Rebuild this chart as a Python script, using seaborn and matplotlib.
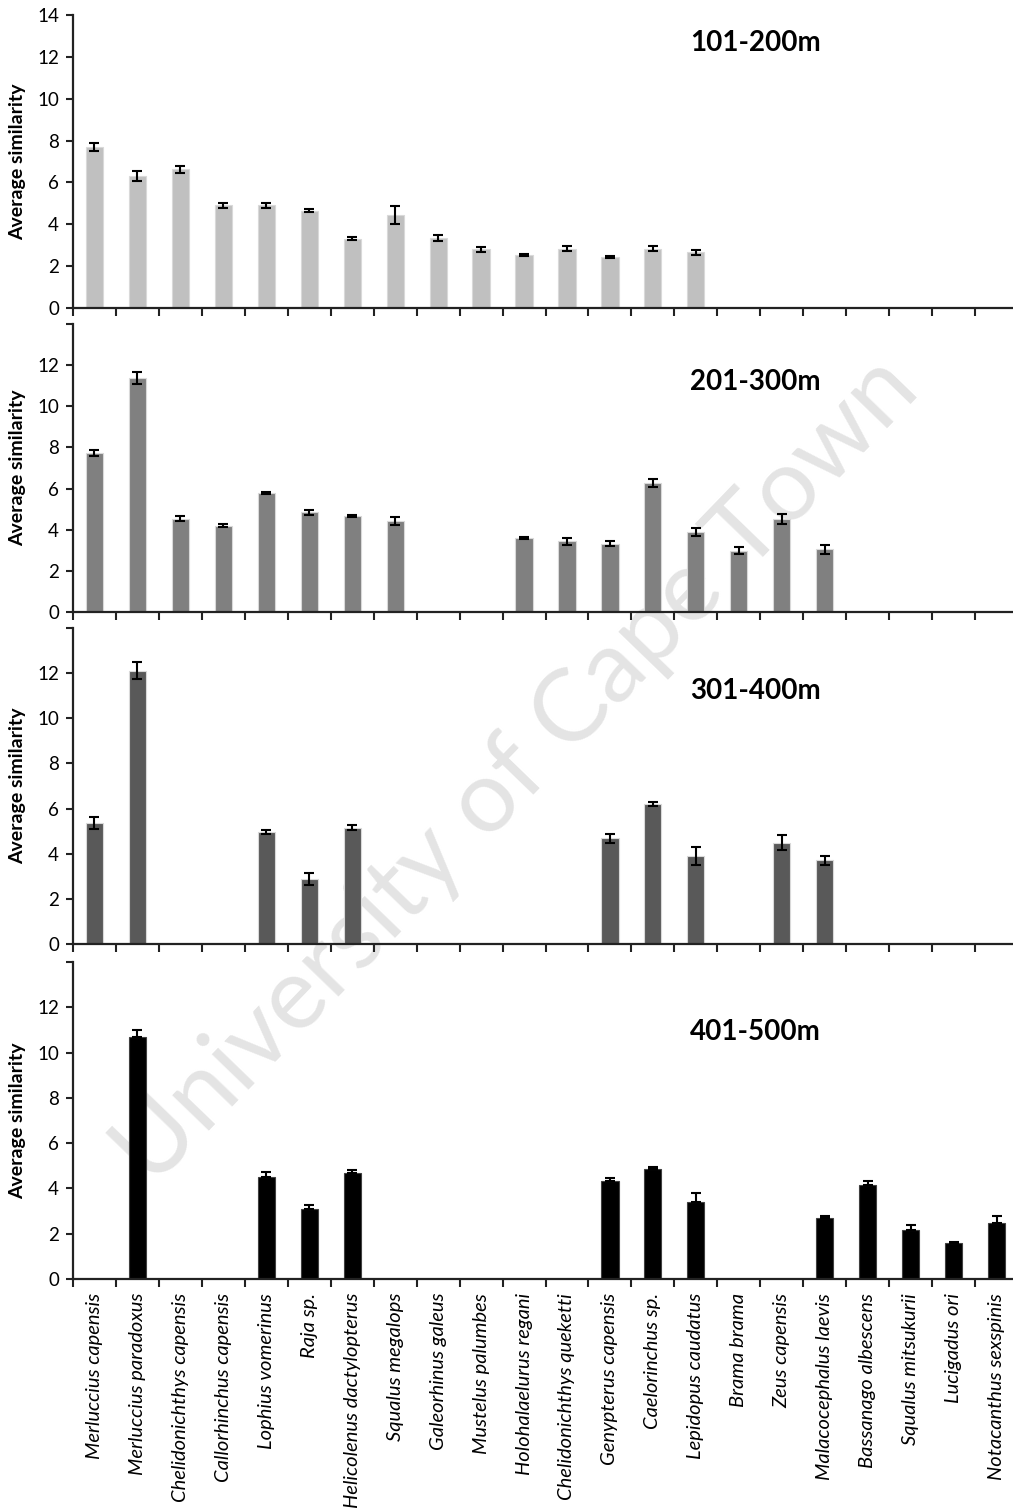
import matplotlib
matplotlib.use("Agg")
import matplotlib.pyplot as plt
import seaborn as sns
import numpy as np
import pandas as pd

species = [
    "Merluccius capensis", "Merluccius paradoxus", "Chelidonichthys capensis",
    "Callorhinchus capensis", "Lophius vomerinus", "Raja sp.",
    "Helicolenus dactylopterus", "Squalus megalops", "Galeorhinus galeus",
    "Mustelus palumbes", "Holohalaelurus regani", "Chelidonichthys queketti",
    "Genypterus capensis", "Caelorinchus sp.", "Lepidopus caudatus",
    "Brama brama", "Zeus capensis", "Malacocephalus laevis",
    "Bassanago albescens", "Squalus mitsukurii", "Lucigadus ori",
    "Notacanthus sexspinis",
]

depths = ["101-200m", "201-300m", "301-400m", "401-500m"]

# 101-200m
sp_101 = species[:15]
val_101 = [7.68, 6.3, 6.62, 4.92, 4.92, 4.65, 3.3, 4.44, 3.36, 2.8, 2.53, 2.82, 2.45, 2.82, 2.66]
err_101 = [0.2, 0.25, 0.15, 0.12, 0.12, 0.08, 0.07, 0.42, 0.15, 0.13, 0.06, 0.12, 0.05, 0.12, 0.12]

# 201-300m
sp_201 = species[:8] + species[10:18]
val_201 = [7.71, 11.39, 4.54, 4.19, 5.79, 4.84, 4.67, 4.42,
           3.61, 3.43, 3.32, 6.28, 3.9, 2.98, 4.53, 3.04]
err_201 = [0.15, 0.3, 0.12, 0.08, 0.05, 0.12, 0.05, 0.2,
           0.04, 0.15, 0.12, 0.18, 0.2, 0.18, 0.25, 0.2]

# 301-400m
sp_301 = [species[i] for i in [0, 1, 4, 5, 6, 12, 13, 14, 16, 17]]
val_301 = [5.35, 12.1, 4.97, 2.87, 5.16, 4.68, 6.2, 3.9, 4.49, 3.71]
err_301 = [0.27, 0.38, 0.1, 0.27, 0.1, 0.2, 0.1, 0.38, 0.34, 0.2]

# 401-500m (upper error bars only)
sp_401 = [species[i] for i in [1, 4, 5, 6, 12, 13, 14, 17, 18, 19, 20, 21]]
val_401 = [10.7, 4.5, 3.07, 4.7, 4.32, 4.84, 3.39, 2.68, 4.13, 2.15, 1.58, 2.49]
err_401 = [0.31, 0.22, 0.18, 0.13, 0.16, 0.09, 0.43, 0.12, 0.18, 0.24, 0.04, 0.31]

bar_colors = ["#c0c0c0", "#808080", "#595959", "#000000"]

panels = [
    (sp_101, val_101, err_101),
    (sp_201, val_201, err_201),
    (sp_301, val_301, err_301),
    (sp_401, val_401, err_401),
]

sns.set_theme(style="white")
plt.rcParams["font.family"] = ["Lato", "DejaVu Sans"]

W, H = 1013, 1512
fig = plt.figure(figsize=(W / 100, H / 100), dpi=100)

# pixel boxes: (top, bottom)
boxes = [(15, 308), (324, 612), (628, 944), (962, 1279)]
title_y = [0.905, 0.80, 0.80, 0.78]
left_px, width_px = 73, 945

# watermark behind everything
fig.text(0.51, 0.49, "University of Cape Town", rotation=46, fontsize=73,
         color="#e4e4e4", ha="center", va="center", zorder=-5,
         family=["Lato", "DejaVu Sans"])

for k, ((sp, vals, errs), color) in enumerate(zip(panels, bar_colors)):
    top, bot = boxes[k]
    ax = fig.add_axes([left_px / W, 1 - bot / H, width_px / W, (bot - top) / H])
    ax.set_facecolor("none")
    df = pd.DataFrame({"species": sp, "value": vals})
    sns.barplot(data=df, x="species", y="value", order=species, color=color,
                width=0.4, errorbar=None, ax=ax, saturation=1,
                edgecolor="#d9d9d9" if k < 3 else "#404040", linewidth=0.8)
    pos = [species.index(s) for s in sp]
    if k < 3:
        yerr = errs
    else:
        yerr = [np.zeros(len(errs)), errs]
    ax.errorbar(pos, vals, yerr=yerr, fmt="none", ecolor="black",
                elinewidth=1.5, capsize=3.5, capthick=1.5, zorder=5)
    ax.set_xlim(-0.5, len(species) - 0.5)
    ax.set_ylim(0, 14)
    ax.set_yticks(range(0, 15, 2))
    if k == 0:
        ax.set_yticklabels([str(v) for v in range(0, 15, 2)])
    else:
        ax.set_yticklabels([str(v) for v in range(0, 13, 2)] + [""])
    ax.set_ylabel("Average similarity", fontsize=14, fontweight="bold",
                  color="black")
    ax.yaxis.set_label_coords(-47 / width_px, 0.5)
    ax.tick_params(axis="y", which="major", direction="out", length=5,
                   width=1.5, color="#222222", labelsize=13.5, pad=5,
                   labelcolor="black", left=True)
    ax.set_xticks(range(len(species)))
    ax.set_xticks(np.arange(-0.5, len(species), 1.0), minor=True)
    ax.tick_params(axis="x", which="minor", direction="out", length=6,
                   width=1.5, color="#222222", bottom=True)
    if k == 3:
        ax.set_xticklabels(species, rotation=90, fontsize=14.5,
                           fontstyle="italic", ha="center", va="top")
        ax.tick_params(axis="x", which="major", length=0, pad=10,
                       labelcolor="black")
    else:
        ax.set_xticklabels([""] * len(species))
        ax.tick_params(axis="x", which="major", length=0)
    ax.set_xlabel("")
    for s in ["top", "right"]:
        ax.spines[s].set_visible(False)
    for s in ["left", "bottom"]:
        ax.spines[s].set_linewidth(1.6)
        ax.spines[s].set_color("#222222")
    ax.text(0.653, title_y[k], depths[k], transform=ax.transAxes,
            fontsize=20, fontweight="bold", ha="left", va="center",
            color="black")

fig.savefig("out.png", dpi=100)
